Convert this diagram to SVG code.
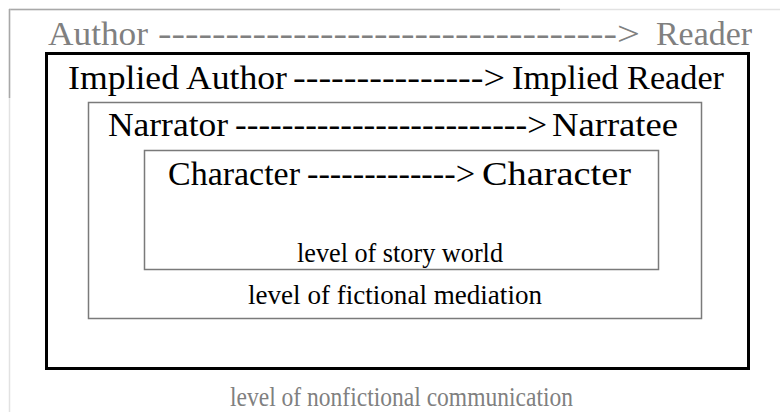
<svg xmlns="http://www.w3.org/2000/svg" width="780" height="412" viewBox="0 0 780 412">
  <style>
    .t { font-family: "Liberation Serif", "Times New Roman", serif; }
    .big { font-size: 34px; }
    .small { font-size: 27.5px; }
    .gray { fill: #808080; }
    .black { fill: #000000; }
    .frame { fill: none; }
  </style>
  <rect width="780" height="412" fill="#ffffff"/>

  <!-- outer page frame -->
  <g id="frame" class="frame">
    <line x1="9" y1="9.5" x2="780" y2="9.5" stroke="#e2e2e2" stroke-width="1.5"/>
    <line x1="9" y1="9.5" x2="560" y2="9.5" stroke="#a8a8a8" stroke-width="1.5"/>
    <line x1="9.5" y1="9" x2="9.5" y2="412" stroke="#e2e2e2" stroke-width="1.5"/>
    <line x1="9.5" y1="9" x2="9.5" y2="98" stroke="#a8a8a8" stroke-width="1.5"/>
  </g>

  <!-- nested levels -->
  <g id="level-nonfictional">
    <rect x="46.5" y="53.5" width="702" height="315" fill="none" stroke="#000" stroke-width="3"/>
  </g>
  <g id="level-fictional">
    <rect x="88.5" y="102.5" width="613" height="216" fill="none" stroke="#7a7a7a" stroke-width="1.5"/>
  </g>
  <g id="level-story">
    <rect x="144.5" y="150.5" width="514" height="119" fill="none" stroke="#7a7a7a" stroke-width="1.5"/>
  </g>

  <!-- senders and receivers -->
  <g id="author" class="t big gray">
    <text x="48" y="45" textLength="100" lengthAdjust="spacingAndGlyphs">Author</text>
  </g>
  <g id="reader" class="t big gray">
    <text x="656" y="45" textLength="96" lengthAdjust="spacingAndGlyphs">Reader</text>
  </g>
  <g id="implied-author" class="t big black">
    <text x="68" y="89" textLength="219" lengthAdjust="spacingAndGlyphs">Implied Author</text>
  </g>
  <g id="implied-reader" class="t big black">
    <text x="512" y="89" textLength="212" lengthAdjust="spacingAndGlyphs">Implied Reader</text>
  </g>
  <g id="narrator" class="t big black">
    <text x="108" y="136" textLength="120" lengthAdjust="spacingAndGlyphs">Narrator</text>
  </g>
  <g id="narratee" class="t big black">
    <text x="552" y="136" textLength="126" lengthAdjust="spacingAndGlyphs">Narratee</text>
  </g>
  <g id="character-a" class="t big black">
    <text x="168" y="185" textLength="132" lengthAdjust="spacingAndGlyphs">Character</text>
  </g>
  <g id="character-b" class="t big black">
    <text x="482" y="185" textLength="149" lengthAdjust="spacingAndGlyphs">Character</text>
  </g>

  <!-- typed dashed arrows -->
  <g id="connectors" class="t big">
    <text class="gray" x="158" y="45" textLength="482" lengthAdjust="spacingAndGlyphs">----------------------------------&gt;</text>
    <text class="black" x="293" y="89" textLength="212" lengthAdjust="spacingAndGlyphs">---------------&gt;</text>
    <text class="black" x="235" y="136" textLength="312" lengthAdjust="spacingAndGlyphs">-------------------------&gt;</text>
    <text class="black" x="307" y="185" textLength="168" lengthAdjust="spacingAndGlyphs">-------------&gt;</text>
  </g>

  <!-- level captions -->
  <g id="captions" class="t small">
    <text class="black" x="297" y="262" textLength="206" lengthAdjust="spacingAndGlyphs">level of story world</text>
    <text class="black" x="248" y="304" textLength="294" lengthAdjust="spacingAndGlyphs">level of fictional mediation</text>
    <text class="gray" x="230" y="406" textLength="343" lengthAdjust="spacingAndGlyphs">level of nonfictional communication</text>
  </g>
</svg>
